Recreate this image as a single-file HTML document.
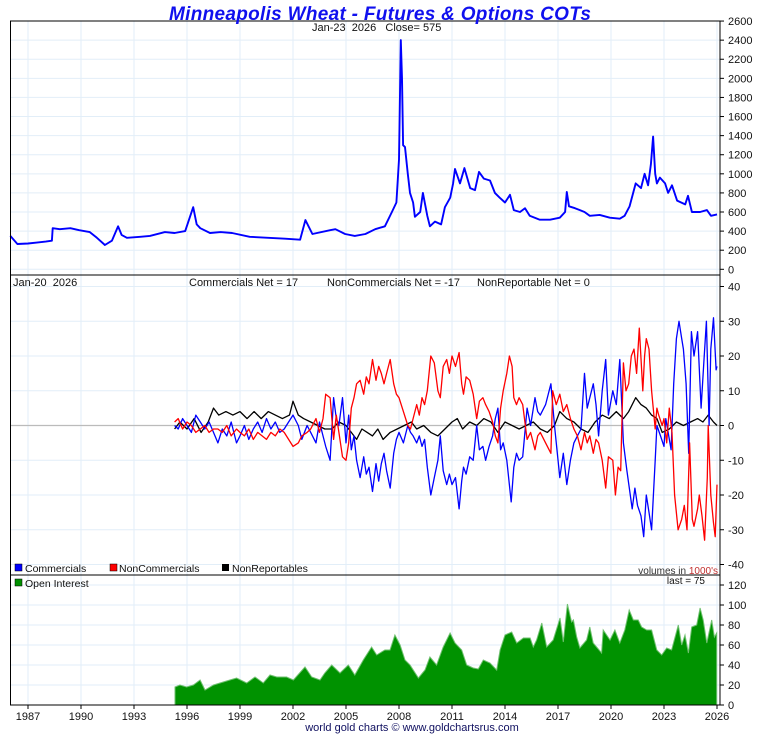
<!DOCTYPE html>
<html><head><meta charset="utf-8"><style>
html,body{margin:0;padding:0;background:#fff}
svg{display:block;font-family:"Liberation Sans",sans-serif}
text{white-space:pre}
</style></head><body>
<svg id="chart" width="760" height="735" viewBox="0 0 760 735" xmlns="http://www.w3.org/2000/svg" xml:space="preserve">
<rect x="0" y="0" width="760" height="735" fill="#fff"/>
<g id="grid"></g>
<g id="series"></g>
<g id="frame"></g>
<text x="380" y="20" text-anchor="middle" font-size="19" font-weight="bold" font-style="italic" fill="#1010ee" textLength="422">Minneapolis Wheat - Futures &amp; Options COTs</text>
<text x="312" y="31" font-size="11" fill="#111">Jan-23  2026   Close= 575</text>
<text x="13" y="286" font-size="11" fill="#111">Jan-20  2026</text>
<text x="189" y="286" font-size="11" fill="#111">Commercials Net = 17</text>
<text x="327" y="286" font-size="11" fill="#111">NonCommercials Net = -17</text>
<text x="477" y="286" font-size="11" fill="#111">NonReportable Net = 0</text>
<g><rect x="15" y="564" width="7" height="7" fill="#0000ff" stroke="#000" stroke-width="0.5"/><text x="25" y="572" font-size="10.5" fill="#111">Commercials</text></g>
<g><rect x="110" y="564" width="7" height="7" fill="#ff0000" stroke="#000" stroke-width="0.5"/><text x="119" y="572" font-size="10.5" fill="#111">NonCommercials</text></g>
<g><rect x="222" y="564" width="7" height="7" fill="#000"/><text x="232" y="572" font-size="10.5" fill="#111">NonReportables</text></g>
<text x="718" y="574" text-anchor="end" font-size="10" fill="#333">volumes in <tspan fill="#c03030">1000's</tspan></text>
<g><rect x="15" y="579" width="7" height="7" fill="#009000" stroke="#000" stroke-width="0.5"/><text x="25" y="587" font-size="10.5" fill="#111">Open Interest</text></g>
<text x="705" y="584" text-anchor="end" font-size="10" fill="#111">last = 75</text>
<text x="412" y="731" text-anchor="middle" font-size="11" fill="#101060">world gold charts © www.goldchartsrus.com</text>
</svg>
<script>
// ---- data ----
const priceYears=[1986.0,1986.4,1987.0,1987.5,1988.0,1988.35,1988.4,1988.8,1989.4,1989.9,1990.5,1990.9,1991.35,1991.75,1992.1,1992.3,1992.6,1993.35,1993.9,1994.75,1995.3,1995.9,1996.35,1996.55,1996.75,1997.3,1997.9,1998.55,1999.55,2000.6,2001.55,2002.4,2002.7,2003.1,2004.1,2004.4,2004.95,2005.5,2006.1,2006.65,2007.2,2007.6,2007.85,2008.0,2008.1,2008.17,2008.23,2008.34,2008.5,2008.62,2008.8,2008.9,2009.2,2009.35,2009.6,2009.75,2010.04,2010.38,2010.6,2010.9,2011.06,2011.17,2011.45,2011.7,2012.03,2012.3,2012.53,2012.8,2013.15,2013.43,2013.7,2014.0,2014.28,2014.5,2014.85,2015.13,2015.4,2015.97,2016.55,2017.1,2017.4,2017.5,2017.62,2017.96,2018.24,2018.5,2018.8,2019.36,2019.93,2020.5,2020.77,2021.05,2021.4,2021.7,2021.9,2022.1,2022.26,2022.38,2022.5,2022.6,2022.77,2023.06,2023.23,2023.45,2023.74,2024.2,2024.36,2024.58,2025.04,2025.43,2025.66,2026.0];
const priceValues=[350,265,270,280,290,300,430,420,430,410,390,330,255,300,450,360,330,340,350,390,380,400,650,470,430,380,390,380,340,330,320,310,515,370,410,420,370,350,370,420,450,600,700,1150,2400,2000,1300,1280,1000,800,700,550,600,800,560,450,500,470,650,750,900,1050,900,1060,850,830,1020,950,930,800,750,700,780,620,600,640,560,520,520,540,600,810,660,640,620,600,560,570,540,530,560,660,900,850,1000,880,1100,1390,1000,900,960,900,800,880,720,680,770,600,600,620,560,575];

const commYears=[1995.3,1995.5,1995.75,1996.0,1996.25,1996.5,1996.75,1997.0,1997.25,1997.5,1997.75,1998.0,1998.25,1998.5,1998.8,1999.0,1999.25,1999.5,1999.75,2000,2000.25,2000.5,2000.75,2001,2001.25,2001.5,2001.75,2002,2002.3,2002.5,2002.8,2003,2003.3,2003.5,2003.7,2003.85,2004.1,2004.3,2004.45,2004.6,2004.8,2005.0,2005.15,2005.3,2005.45,2005.6,2005.8,2006.0,2006.15,2006.3,2006.5,2006.7,2006.85,2007.0,2007.15,2007.3,2007.5,2007.7,2007.85,2008.0,2008.25,2008.5,2008.65,2008.8,2009.0,2009.15,2009.3,2009.45,2009.6,2009.8,2010.0,2010.2,2010.34,2010.5,2010.7,2010.85,2011.0,2011.2,2011.4,2011.55,2011.65,2011.8,2012.0,2012.2,2012.4,2012.55,2012.75,2012.9,2013.1,2013.3,2013.45,2013.6,2013.75,2013.9,2014.1,2014.35,2014.5,2014.65,2014.8,2015.0,2015.25,2015.45,2015.7,2015.85,2016.0,2016.3,2016.6,2016.8,2017.1,2017.3,2017.5,2017.7,2017.9,2018.1,2018.3,2018.5,2018.65,2018.8,2019.0,2019.15,2019.3,2019.5,2019.7,2019.85,2020.1,2020.3,2020.5,2020.7,2020.9,2021.2,2021.35,2021.5,2021.7,2021.85,2022.0,2022.15,2022.3,2022.5,2022.6,2022.8,2023.0,2023.1,2023.4,2023.55,2023.7,2023.85,2024.0,2024.1,2024.25,2024.4,2024.55,2024.7,2024.9,2025.1,2025.25,2025.4,2025.55,2025.65,2025.8,2025.95,2026.0];
const commValues=[0,-1,2,0,-2,3,1,-1,1,-2,-5,-1,-3,1,-5,-3,0,-4,-1,1,-2,2,-1,1,-2,-1,1,3,0,-4,0,-2,-5,1,-3,-6,-10,8,2,0,8,-5,3,-7,-3,-10,-15,-9,-14,-12,-19,-11,-16,-11,-8,-13,-18,-8,-4,-2,-5,0,-2,-3,-5,-3,-6,-4,-12,-20,-15,-10,-3,-13,-17,-14,-17,-15,-24,-16,-12,-14,-9,-10,0,-7,-6,-10,-6,-3,2,5,-7,-5,-10,-22,-12,-8,-10,-9,5,0,8,4,3,6,12,0,-15,-8,-17,-10,-5,-3,-1,15,5,8,12,6,-3,10,19,3,10,6,19,-5,-13,-24,-18,-23,-26,-32,-20,-25,-30,-10,0,-3,-6,2,-7,12,25,30,25,22,12,-8,27,20,27,5,18,30,0,22,31,16,17];

const ncYears=[1995.3,1995.5,1995.75,1996.0,1996.25,1996.5,1996.75,1997.0,1997.25,1997.5,1997.75,1998.0,1998.25,1998.5,1998.8,1999.0,1999.25,1999.5,1999.75,2000,2000.25,2000.5,2000.75,2001,2001.25,2001.5,2001.75,2002,2002.3,2002.5,2002.8,2003,2003.3,2003.5,2003.7,2003.85,2004.1,2004.3,2004.45,2004.6,2004.8,2005.0,2005.15,2005.3,2005.45,2005.6,2005.8,2006.0,2006.15,2006.3,2006.5,2006.7,2006.85,2007.0,2007.15,2007.3,2007.5,2007.7,2007.85,2008.0,2008.25,2008.5,2008.65,2008.8,2009.0,2009.15,2009.3,2009.45,2009.6,2009.8,2010.0,2010.2,2010.34,2010.5,2010.7,2010.85,2011.0,2011.2,2011.4,2011.55,2011.65,2011.8,2012.0,2012.2,2012.4,2012.55,2012.75,2012.9,2013.1,2013.3,2013.45,2013.6,2013.75,2013.9,2014.1,2014.25,2014.4,2014.5,2014.65,2014.8,2015.0,2015.25,2015.45,2015.7,2015.85,2016.0,2016.3,2016.6,2016.7,2016.9,2017.1,2017.3,2017.5,2017.7,2017.9,2018.1,2018.3,2018.5,2018.65,2018.8,2019.0,2019.15,2019.3,2019.5,2019.7,2019.85,2020.1,2020.25,2020.4,2020.55,2020.7,2020.85,2021.0,2021.15,2021.3,2021.45,2021.6,2021.8,2021.9,2022.0,2022.15,2022.3,2022.5,2022.6,2022.7,2022.9,2023.0,2023.15,2023.3,2023.45,2023.6,2023.8,2024.0,2024.15,2024.3,2024.45,2024.6,2024.7,2024.9,2025.0,2025.15,2025.3,2025.45,2025.5,2025.65,2025.8,2025.9,2026.0];
const ncValues=[1,2,-1,1,0,-2,-1,0,-2,-1,-1,-2,0,-3,-1,-2,-3,-1,-4,-2,-3,-4,-2,-3,-1,-2,-4,-6,-5,-3,-2,-1,2,-2,2,9,8,-4,3,-2,-9,-10,-5,5,8,12,13,9,14,12,19,13,17,15,12,15,19,12,9,8,4,0,-1,2,6,3,8,6,10,20,18,10,8,17,19,15,20,17,21,12,9,14,13,9,2,7,8,6,4,1,-3,-5,5,10,15,20,17,8,6,8,6,-4,-2,-7,-3,-2,-5,-8,10,6,9,4,6,2,-1,-3,-7,-2,-5,-3,-8,-4,-5,-10,-18,-9,-10,-20,-12,-13,18,10,12,20,22,15,28,10,20,25,22,10,-1,5,3,0,2,-5,5,-2,-20,-30,-27,-23,-30,-5,-27,-29,-24,-20,-26,-33,-15,0,-20,-28,-32,-17];

const nrYears=[1995.3,1995.6,1996.0,1996.4,1996.8,1997.2,1997.5,1997.8,1998.2,1998.6,1999.0,1999.4,1999.8,2000.2,2000.6,2001.0,2001.4,2001.8,2002.0,2002.3,2002.6,2003.0,2003.4,2003.8,2004.2,2004.6,2005.0,2005.3,2005.6,2005.9,2006.2,2006.5,2006.8,2007.1,2007.5,2007.9,2008.3,2008.7,2009.0,2009.4,2009.8,2010.2,2010.6,2011.0,2011.3,2011.6,2012.0,2012.4,2012.8,2013.2,2013.6,2014.0,2014.4,2014.8,2015.2,2015.6,2016.0,2016.4,2016.8,2017.1,2017.5,2017.9,2018.3,2018.7,2019.1,2019.5,2019.9,2020.3,2020.7,2021.0,2021.4,2021.7,2022.0,2022.3,2022.6,2022.9,2023.3,2023.7,2024.1,2024.5,2024.9,2025.2,2025.5,2025.8,2026.0];
const nrValues=[-1,1,-1,2,-2,1,5,3,4,3,4,2,4,2,4,3,2,3,7,3,2,1,0,-1,-1,1,0,-2,-4,-1,-2,-3,-1,-4,-2,-1,0,1,-1,0,-2,-3,-1,1,2,-1,1,0,2,1,-2,1,0,-1,0,1,-1,-2,0,4,2,1,-1,-2,1,3,2,4,2,4,8,6,5,3,2,-2,-1,1,0,1,2,1,3,1,0];

const oiYears=[1995.32,1995.6,1995.98,1996.36,1996.74,1997.02,1997.5,1997.87,1998.43,1998.81,1999.38,1999.85,2000.32,2000.7,2001.08,2001.64,2002.02,2002.68,2003.06,2003.53,2003.8,2004.19,2004.66,2005.13,2005.5,2005.98,2006.45,2006.74,2006.92,2007.2,2007.49,2007.77,2008.06,2008.34,2008.62,2009.1,2009.47,2009.75,2010.13,2010.5,2010.89,2011.17,2011.55,2011.83,2012.2,2012.49,2012.77,2013.15,2013.53,2013.72,2014.0,2014.38,2014.66,2015.04,2015.42,2015.6,2015.79,2016.08,2016.36,2016.73,2017.11,2017.3,2017.53,2017.77,2017.87,2018.06,2018.24,2018.62,2018.8,2018.99,2019.47,2019.56,2019.94,2020.22,2020.5,2020.78,2021.03,2021.26,2021.54,2021.73,2022.02,2022.3,2022.59,2022.87,2023.15,2023.43,2023.81,2024.0,2024.19,2024.38,2024.57,2024.85,2025.04,2025.22,2025.42,2025.7,2025.85,2025.98];
const oiValues=[18,20,18,20,25,15,20,22,25,27,22,28,22,30,28,28,25,38,28,25,32,40,32,40,30,45,58,50,52,55,55,70,60,45,40,27,35,48,40,58,72,62,55,40,37,36,45,42,35,55,70,73,62,67,67,58,65,82,58,65,87,63,101,83,85,68,57,65,78,62,52,75,65,75,62,75,95,85,85,78,75,75,55,50,57,55,80,60,70,52,78,80,97,85,62,85,68,72];

const yearLabels=[1987,1990,1993,1996,1999,2002,2005,2008,2011,2014,2017,2020,2023,2026];
const priceTicks=[0,200,400,600,800,1000,1200,1400,1600,1800,2000,2200,2400,2600];
const cotTicks=[-40,-30,-20,-10,0,10,20,30,40];
const oiTicks=[0,20,40,60,80,100,120];

// ---- scales ----
const L=10.5,R=720;
const xS=y=>28+(y-1987)*17.667;
const yP=v=>269.3-v*0.09548;
const yC=v=>425.5-v*3.475;
const yO=v=>705-v*1.0;
const NS="http://www.w3.org/2000/svg";
function mk(tag,attrs,parent){const e=document.createElementNS(NS,tag);for(const k in attrs)e.setAttribute(k,attrs[k]);parent.appendChild(e);return e;}
const grid=document.getElementById('grid'),ser=document.getElementById('series'),frame=document.getElementById('frame');
const GC="#e2eef8";

yearLabels.forEach(yr=>{
  const x=xS(yr);
  const gl=mk('line',{x1:x,x2:x,y1:21,y2:705,stroke:GC,'stroke-width':1},grid);
  
  
  const tk=mk('line',{x1:x,x2:x,y1:705,y2:709,stroke:'#000','stroke-width':1},frame);
  
  
  const t=mk('text',{x:x,y:720,'text-anchor':'middle','font-size':11,fill:'#111'},frame);
  t.textContent=yr;
  
  
});
function yAxis(ticks,fn,name){
  ticks.forEach(v=>{
    const y=fn(v);
    const gl=mk('line',{x1:L,x2:R,y1:y,y2:y,stroke:GC,'stroke-width':1},grid);
    
    
    const tk=mk('line',{x1:R,x2:R+4,y1:y,y2:y,stroke:'#000','stroke-width':1},frame);
    
    
    const t=mk('text',{x:R+8,y:y+4,'font-size':11,fill:'#111'},frame);
    t.textContent=v;
    
    
  });
}
yAxis(priceTicks,yP,'price-axis');
yAxis(cotTicks,yC,'cot-axis');
yAxis(oiTicks,yO,'oi-axis');

const z=mk('line',{x1:L,x2:R,y1:yC(0),y2:yC(0),stroke:'#bbb','stroke-width':1.2},ser);



function line(xs,vs,fn,color,w,name){
  const d=xs.map((yr,i)=>(i?'L':'M')+xS(yr).toFixed(1)+' '+fn(vs[i]).toFixed(1)).join(' ');
  const p=mk('path',{d:d,fill:'none',stroke:color,'stroke-width':w,'stroke-linejoin':'round'},ser);
  
  
}
(function(){
  let d='M'+xS(oiYears[0]).toFixed(1)+' '+yO(0);
  oiYears.forEach((yr,i)=>{d+=' L'+xS(yr).toFixed(1)+' '+yO(oiValues[i]).toFixed(1);});
  d+=' L'+xS(oiYears[oiYears.length-1]).toFixed(1)+' '+yO(0)+' Z';
  const a=mk('path',{d:d,fill:'#009200',stroke:'#70c070','stroke-width':1},ser);
  
  
})();
line(priceYears,priceValues,yP,'#0000ff',1.9,'price-line');
line(nrYears,nrValues,yC,'#000000',1.3,'nonreportables-line');
line(commYears,commValues,yC,'#0000ff',1.3,'commercials-line');
line(ncYears,ncValues,yC,'#ff0000',1.3,'noncommercials-line');

[[21,275,'price-panel'],[275,575,'cot-panel'],[575,705,'oi-panel']].forEach(p=>{
  const r=mk('rect',{x:L,y:p[0],width:R-L,height:p[1]-p[0],fill:'none',stroke:'#000','stroke-width':1},frame);
  
  
});
</script>
</body></html>
